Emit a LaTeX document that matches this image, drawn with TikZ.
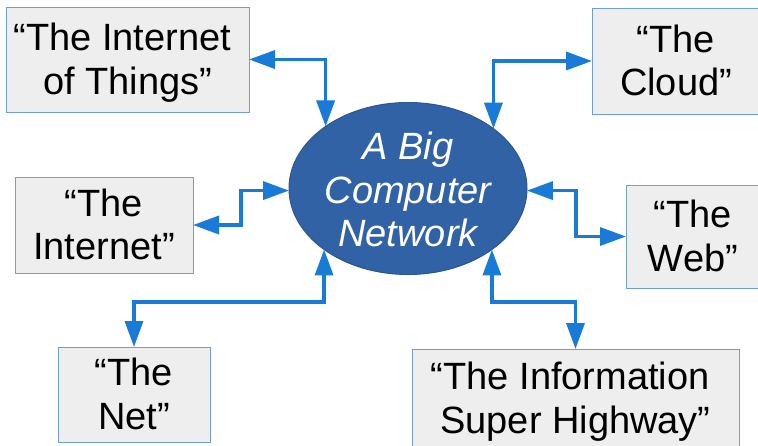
\documentclass[tikz,border=0pt]{standalone}
\usepackage{fontspec}
\setmainfont{Liberation Sans}
\usetikzlibrary{arrows.meta,shapes.geometric}
\definecolor{boxfill}{HTML}{EEEEEE}
\definecolor{boxline}{HTML}{729FCF}
\definecolor{hubfill}{HTML}{3162A5}
\definecolor{hubline}{HTML}{2A5593}
\definecolor{linkblue}{HTML}{1A7AD8}
% strut giving each line the font's ascent and descent
\newcommand\linestrut{\rule[-0.212em]{0pt}{1.117em}}
\begin{document}
\begin{tikzpicture}[x=1pt,y=-1pt,
  labelbox/.style={rectangle, draw=boxline, fill=boxfill, line width=1pt,
    inner sep=0pt, outer sep=0pt, align=center,
    font=\fontsize{38}{42.4}\selectfont},
  hub/.style={ellipse, draw=hubline, fill=hubfill, line width=1pt,
    inner sep=0pt, outer sep=0pt, minimum width=238pt, minimum height=172pt},
  hubtext/.style={text=white, align=center, inner sep=0pt,
    font=\fontsize{38}{42.4}\selectfont\itshape},
  link/.style={draw=linkblue, line width=3.5pt,
    {Triangle[length=26pt,width=18pt]}-{Triangle[length=26pt,width=18pt]}}
]
\useasboundingbox (0,0) rectangle (758,445);
\fill[white] (0,0) rectangle (758,445);

% central ellipse
\node[hub] (hub) at (408,188.5) {};
\node[hubtext] (hubtext) at (408,190) {\linestrut A Big\\\linestrut Computer\\\linestrut Network};

% surrounding names
\node[labelbox, minimum width=243pt, minimum height=105pt] (iot) at (127.5,59.5)
  {\linestrut“The Internet\kern0.278em\\\linestrut of Things”};
\node[labelbox, minimum width=168pt, minimum height=106pt] (cloud) at (676,61)
  {\linestrut“The\\\linestrut Cloud”};
\node[labelbox, minimum width=178pt, minimum height=96pt] (inet) at (104,225)
  {\linestrut“The\\\linestrut Internet”};
\node[labelbox, minimum width=134pt, minimum height=103pt] (web) at (693,236.5)
  {\linestrut“The\\\linestrut Web”};
\node[labelbox, minimum width=152pt, minimum height=95pt] (netbox) at (134,394.5)
  {\linestrut“The\\\linestrut Net”};
\node[labelbox, minimum width=327pt, minimum height=99pt] (info) at (575.5,398.5)
  {\linestrut“The Information\kern0.278em\\\linestrut Super Highway”};

% two-way links
\draw[link] (iot.east) -| (hub.143.42);
\draw[link] (cloud.west) -| (hub.35.94);
\draw[link] (inet.east) -- ++(48,0) |- (hub.181.2);
\draw[link] (hub.359.3) -- ++(49,0) |- (web.west);
\draw[link] (netbox.north) -- ++(0,-45) -| (hub.216.58);
\draw[link] (info.north) -- ++(0,-47) -| (hub.324.06);
\end{tikzpicture}
\end{document}
